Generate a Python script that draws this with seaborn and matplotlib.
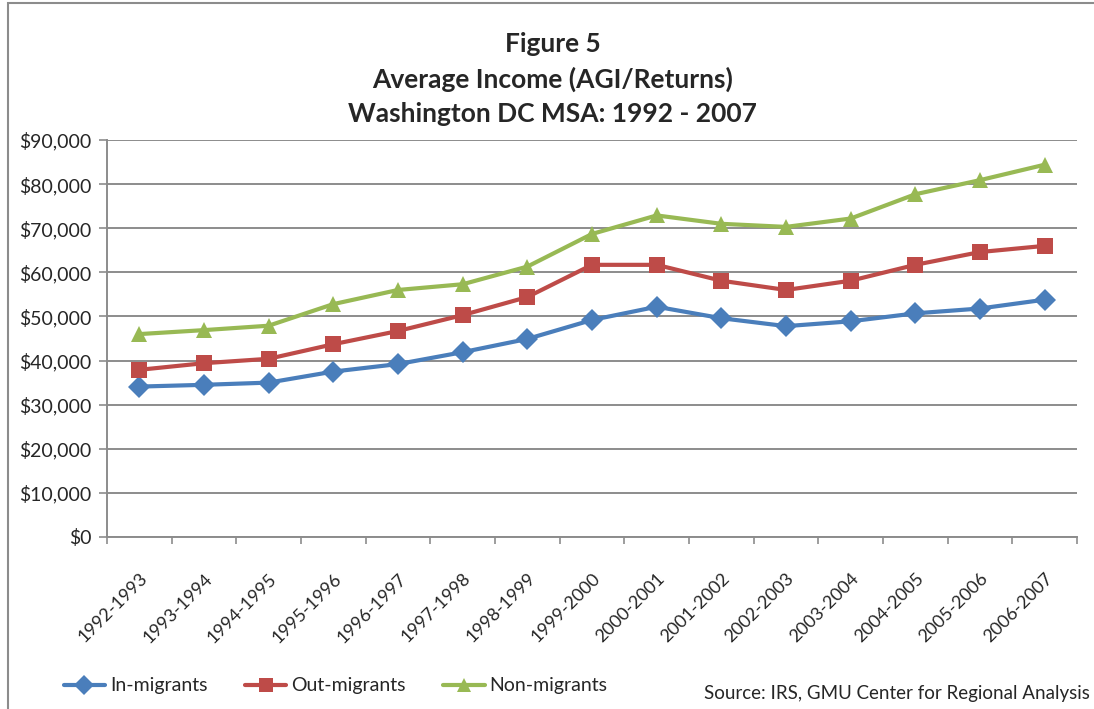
import matplotlib
matplotlib.use("Agg")
import matplotlib.pyplot as plt
from matplotlib.lines import Line2D
from matplotlib.patches import Rectangle
from matplotlib.ticker import FuncFormatter, FixedLocator
import seaborn as sns
import pandas as pd

periods = ["1992-1993", "1993-1994", "1994-1995", "1995-1996", "1996-1997",
           "1997-1998", "1998-1999", "1999-2000", "2000-2001", "2001-2002",
           "2002-2003", "2003-2004", "2004-2005", "2005-2006", "2006-2007"]
in_migrants = [34100, 34500, 35000, 37500, 39200, 41900, 44900, 49200,
               52200, 49600, 47800, 48900, 50700, 51800, 53800]
out_migrants = [37900, 39400, 40400, 43700, 46700, 50300, 54400, 61700,
                61700, 58100, 56000, 58100, 61700, 64600, 66000]
non_migrants = [46000, 46900, 47900, 52800, 56000, 57300, 61300, 68700,
                72900, 71000, 70300, 72200, 77700, 80900, 84400]
series_names = ["In-migrants", "Out-migrants", "Non-migrants"]
colors = ["#4A7EBB", "#BE4B48", "#98B954"]
markers = ["D", "s", "^"]

df = pd.DataFrame({"period": periods * 3,
                   "income": in_migrants + out_migrants + non_migrants,
                   "group": [n for n in series_names for _ in periods]})

sns.set_theme(style="white")
plt.rcParams["font.family"] = ["Lato", "DejaVu Sans"]

fig = plt.figure(figsize=(10.94, 7.09), dpi=100)
ax = fig.add_axes([107 / 1094, 1 - 537 / 709, 970 / 1094, 397 / 709])

sns.lineplot(data=df, x="period", y="income", hue="group", style="group",
             palette=colors, markers=markers, dashes=False, linewidth=3,
             markersize=11, markeredgewidth=0, legend=False, ax=ax, sort=False)

ax.set_ylim(0, 90000)
ax.set_xlim(-0.5, len(periods) - 0.5)
ax.set_yticks(range(0, 90001, 10000))
ax.yaxis.set_major_formatter(FuncFormatter(lambda v, p: f"${v:,.0f}"))
ax.grid(axis="y", color="#8C8C8C", linewidth=1.4)
ax.set_axisbelow(True)
ax.set_xlabel("")
ax.set_ylabel("")

ax.set_xticks(range(len(periods)))
ax.set_xticklabels(periods, rotation=45, ha="right", rotation_mode="anchor",
                   fontsize=13)
ax.xaxis.set_minor_locator(FixedLocator([i - 0.5 for i in range(len(periods) + 1)]))
ax.tick_params(axis="x", which="major", length=0, pad=24)
ax.tick_params(axis="x", which="minor", length=5, width=1.2, color="#8C8C8C",
               bottom=True)
ax.tick_params(axis="y", length=6, width=1.2, color="#8C8C8C", left=True,
               labelsize=14, pad=5)

for side in ["top", "right"]:
    ax.spines[side].set_visible(False)
for side in ["left", "bottom"]:
    ax.spines[side].set_color("#8C8C8C")
    ax.spines[side].set_linewidth(1.4)

title_lines = ["Figure 5", "Average Income (AGI/Returns)",
               "Washington DC MSA: 1992 - 2007"]
for line, base in zip(title_lines, [52, 88, 122]):
    fig.text(0.505, 1 - base / 709, line, ha="center", va="baseline",
             fontsize=19, fontweight="bold")

handles = [Line2D([], [], color=c, marker=m, linewidth=3, markersize=10,
                  markeredgewidth=0) for c, m in zip(colors, markers)]
fig.legend(handles, series_names, loc="center left",
           bbox_to_anchor=(46 / 1094, 1 - 686 / 709), ncol=3, frameon=False,
           fontsize=14, handlelength=2.15, handletextpad=0.25, columnspacing=1.9)

fig.text(1090 / 1094, 1 - 694 / 709, "Source: IRS, GMU Center for Regional Analysis",
         ha="right", va="center", fontsize=13.5)

fig.patches.append(Rectangle((8 / 1094, -0.05), 1.2, 1 - 3 / 709 + 0.05,
                             transform=fig.transFigure, fill=False,
                             edgecolor="#8C8C8C", linewidth=1.5))

fig.savefig("out.png", dpi=100)
